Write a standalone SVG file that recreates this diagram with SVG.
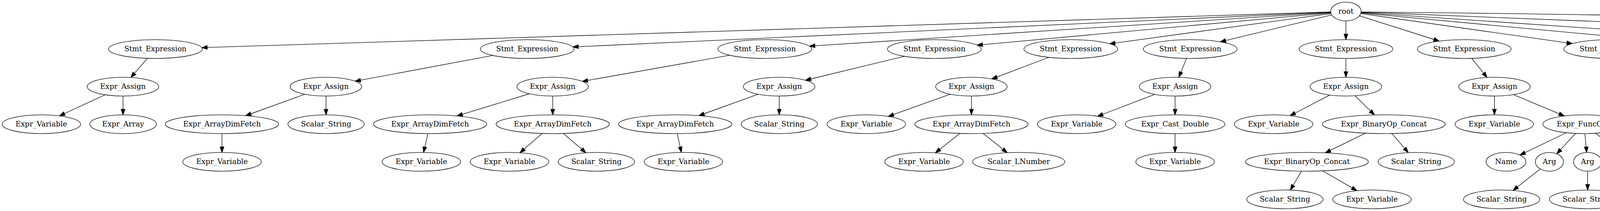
<svg xmlns="http://www.w3.org/2000/svg" width="6625" height="539" viewBox="0 0 6625 539">
<style>
.node ellipse{fill:#fff;stroke:#000;stroke-width:1.33}
.node text{font-family:"DejaVu Serif",serif;font-size:18.67px;text-anchor:middle;fill:#000}
.edges path{fill:none;stroke:#000;stroke-width:1.33;marker-end:url(#arr)}
</style>
<defs>
<marker id="arr" markerUnits="userSpaceOnUse" markerWidth="14" markerHeight="10" viewBox="0 0 13.33 9.33" refX="13.33" refY="4.67" orient="auto" overflow="visible">
<path d="M0,0 L13.33,4.67 L0,9.33 z" fill="#000" stroke="#000" stroke-width="1.33"/>
</marker>
</defs>
<rect width="6625" height="539" fill="#fff"/>
<g id="edges" class="edges">
<path d="M3406.6,30.5 L516.5,121.6"/>
<path d="M3406.6,31.1 L1466.6,119.9"/>
<path d="M3406.7,31.8 L2072.2,117.9"/>
<path d="M3406.9,32.8 L2501.2,115.4"/>
<path d="M3407.4,34.5 L2840.5,111.8"/>
<path d="M3409.2,38.1 L3123.7,106.8"/>
<path d="M3445.5,53.3 L3445.5,101.3"/>
<path d="M3480.2,40.3 L3684.4,105.0"/>
<path d="M3483.5,34.7 L4025.3,111.4"/>
<path d="M3484.0,33.2 L4330.5,112.0"/>
<path d="M3484.3,32.0 L4733.6,117.5"/>
<path d="M3484.4,30.9 L5778.1,122.0"/>
<path d="M3484.4,30.7 Q5179,46 6092.4,111.7"/>
<path d="M377.3,149.0 L335.0,197.9"/>
<path d="M269.3,242.1 L152.1,296.0"/>
<path d="M314.9,245.3 L314.9,293.3"/>
<path d="M1261.8,141.7 L909.0,207.4"/>
<path d="M780.6,240.7 L628.8,295.5"/>
<path d="M834.6,245.3 L834.6,293.3"/>
<path d="M568.3,341.3 L568.3,389.3"/>
<path d="M1868.1,141.2 L1490.6,207.9"/>
<path d="M1355.2,239.5 L1170.0,296.2"/>
<path d="M1414.9,245.3 L1414.9,293.3"/>
<path d="M1095.5,341.3 L1084.3,389.3"/>
<path d="M1387.8,340.9 L1331.0,390.2"/>
<path d="M1442.4,340.9 L1499.9,390.2"/>
<path d="M2315.5,143.8 L2061.9,205.0"/>
<path d="M1940.8,240.7 L1788.9,295.5"/>
<path d="M1994.8,245.3 L1994.8,293.3"/>
<path d="M1733.7,341.3 L1744.3,389.3"/>
<path d="M2685.1,146.5 L2539.0,201.6"/>
<path d="M2432.6,240.6 L2273.8,297.4"/>
<path d="M2486.9,245.3 L2486.9,293.3"/>
<path d="M2457.3,340.8 L2394.7,390.3"/>
<path d="M2516.6,340.8 L2578.7,390.1"/>
<path d="M3037.4,149.2 L3017.9,197.4"/>
<path d="M2956.4,241.1 L2809.7,297.0"/>
<path d="M3008.2,245.3 L3008.2,293.3"/>
<path d="M3008.2,341.3 L3008.2,389.3"/>
<path d="M3445.5,149.3 L3445.5,197.3"/>
<path d="M3404.2,242.7 L3302.5,295.5"/>
<path d="M3469.0,244.5 L3518.7,293.6"/>
<path d="M3495.7,340.2 L3392.7,390.4"/>
<path d="M3563.2,341.1 L3605.3,389.8"/>
<path d="M3331.7,437.2 L3303.4,485.5"/>
<path d="M3386.0,436.5 L3473.8,487.1"/>
<path d="M3767.5,149.0 L3807.0,197.8"/>
<path d="M3825.7,245.3 L3825.7,293.3"/>
<path d="M3874.4,241.7 L4004.6,296.2"/>
<path d="M4009.9,339.0 L3891.0,396.2"/>
<path d="M4033.3,340.8 L3985.3,392.9"/>
<path d="M4057.2,341.3 L4061.9,389.4"/>
<path d="M4084.7,340.3 L4155.5,395.1"/>
<path d="M3943.2,431.6 L3873.4,486.4"/>
<path d="M4064.3,437.3 L4064.3,485.3"/>
<path d="M4200.3,432.7 L4259.0,486.1"/>
<path d="M4150.4,148.7 L4207.8,198.1"/>
<path d="M4235.1,245.3 L4235.1,293.3"/>
<path d="M4261.9,244.5 L4324.8,298.4"/>
<path d="M4346.2,341.3 L4346.2,389.3"/>
<path d="M4437.1,146.7 L4525.6,198.1"/>
<path d="M4565.6,245.3 L4565.6,293.3"/>
<path d="M4629.6,243.2 L4788.7,297.8"/>
<path d="M4565.6,341.3 L4565.6,389.3"/>
<path d="M4618.1,339.9 L4739.5,392.3"/>
<path d="M4897.4,147.1 L5021.1,200.8"/>
<path d="M5068.5,245.3 L5068.5,293.3"/>
<path d="M5117.1,241.7 L5247.3,296.2"/>
<path d="M5283.8,341.1 L5255.2,390.2"/>
<path d="M5311.5,341.1 L5340.6,390.9"/>
<path d="M5353.7,437.3 L5353.7,485.3"/>
<path d="M5834.8,148.0 L5773.6,198.4"/>
<path d="M5890.0,148.0 L5951.2,198.0"/>
<path d="M5922.7,142.2 L6146.3,204.8"/>
<path d="M5698.9,241.9 L5575.0,296.2"/>
<path d="M5748.4,245.3 L5753.6,293.3"/>
<path d="M5742.6,341.1 L5714.6,390.1"/>
<path d="M5770.4,341.1 L5800.1,391.0"/>
<path d="M5813.6,437.3 L5813.6,485.3"/>
<path d="M5982.0,245.3 L5986.5,293.3"/>
<path d="M5974.4,341.1 L5944.9,390.2"/>
<path d="M6002.2,341.1 L6030.3,390.8"/>
<path d="M6043.1,437.3 L6043.1,485.3"/>
<path d="M6208.1,245.3 L6213.4,293.3"/>
<path d="M6245.2,147.1 L6367.3,200.1"/>
<path d="M6414.0,245.3 L6409.3,293.3"/>
<path d="M6441.2,244.6 L6498.1,297.8"/>
<path d="M6519.0,341.3 L6519.0,389.3"/>
</g>
<g id="n0" class="node"><ellipse cx="3445.5" cy="29.3" rx="39" ry="24"/><text x="3445.5" y="34.6">root</text></g>
<g id="n1" class="node"><ellipse cx="397.8" cy="125.3" rx="120" ry="24"/><text x="397.8" y="130.6">Stmt_Expression</text></g>
<g id="n2" class="node"><ellipse cx="314.7" cy="221.3" rx="91.5" ry="24"/><text x="314.7" y="226.6">Expr_Assign</text></g>
<g id="n3" class="node"><ellipse cx="105.8" cy="317.3" rx="100.5" ry="24"/><text x="105.8" y="322.6">Expr_Variable</text></g>
<g id="n4" class="node"><ellipse cx="315.2" cy="317.3" rx="85.3" ry="24"/><text x="315.2" y="322.6">Expr_Array</text></g>
<g id="n5" class="node"><ellipse cx="1349.6" cy="125.3" rx="120" ry="24"/><text x="1349.6" y="130.6">Stmt_Expression</text></g>
<g id="n6" class="node"><ellipse cx="834.4" cy="221.3" rx="91.5" ry="24"/><text x="834.4" y="226.6">Expr_Assign</text></g>
<g id="n7" class="node"><ellipse cx="568.3" cy="317.3" rx="145" ry="24"/><text x="568.3" y="322.6">Expr_ArrayDimFetch</text></g>
<g id="n8" class="node"><ellipse cx="568.3" cy="413.3" rx="100.5" ry="24"/><text x="568.3" y="418.6">Expr_Variable</text></g>
<g id="n9" class="node"><ellipse cx="834.8" cy="317.3" rx="97.7" ry="24"/><text x="834.8" y="322.6">Scalar_String</text></g>
<g id="n10" class="node"><ellipse cx="1958" cy="125.3" rx="120" ry="24"/><text x="1958" y="130.6">Stmt_Expression</text></g>
<g id="n11" class="node"><ellipse cx="1414.7" cy="221.3" rx="91.5" ry="24"/><text x="1414.7" y="226.6">Expr_Assign</text></g>
<g id="n12" class="node"><ellipse cx="1101" cy="317.3" rx="145" ry="24"/><text x="1101" y="322.6">Expr_ArrayDimFetch</text></g>
<g id="n13" class="node"><ellipse cx="1078.8" cy="413.3" rx="100.5" ry="24"/><text x="1078.8" y="418.6">Expr_Variable</text></g>
<g id="n14" class="node"><ellipse cx="1415" cy="317.3" rx="145" ry="24"/><text x="1415" y="322.6">Expr_ArrayDimFetch</text></g>
<g id="n15" class="node"><ellipse cx="1304.3" cy="413.3" rx="100.5" ry="24"/><text x="1304.3" y="418.6">Expr_Variable</text></g>
<g id="n16" class="node"><ellipse cx="1526.8" cy="413.3" rx="97.7" ry="24"/><text x="1526.8" y="418.6">Scalar_String</text></g>
<g id="n17" class="node"><ellipse cx="2392" cy="125.3" rx="120" ry="24"/><text x="2392" y="130.6">Stmt_Expression</text></g>
<g id="n18" class="node"><ellipse cx="1994.6" cy="221.3" rx="91.5" ry="24"/><text x="1994.6" y="226.6">Expr_Assign</text></g>
<g id="n19" class="node"><ellipse cx="1728.4" cy="317.3" rx="145" ry="24"/><text x="1728.4" y="322.6">Expr_ArrayDimFetch</text></g>
<g id="n20" class="node"><ellipse cx="1749.6" cy="413.3" rx="100.5" ry="24"/><text x="1749.6" y="418.6">Expr_Variable</text></g>
<g id="n21" class="node"><ellipse cx="1995" cy="317.3" rx="97.7" ry="24"/><text x="1995" y="322.6">Scalar_String</text></g>
<g id="n22" class="node"><ellipse cx="2741.3" cy="125.3" rx="120" ry="24"/><text x="2741.3" y="130.6">Stmt_Expression</text></g>
<g id="n23" class="node"><ellipse cx="2486.8" cy="221.3" rx="91.5" ry="24"/><text x="2486.8" y="226.6">Expr_Assign</text></g>
<g id="n24" class="node"><ellipse cx="2217.9" cy="317.3" rx="100.5" ry="24"/><text x="2217.9" y="322.6">Expr_Variable</text></g>
<g id="n25" class="node"><ellipse cx="2487" cy="317.3" rx="145" ry="24"/><text x="2487" y="322.6">Expr_ArrayDimFetch</text></g>
<g id="n26" class="node"><ellipse cx="2365.6" cy="413.3" rx="100.5" ry="24"/><text x="2365.6" y="418.6">Expr_Variable</text></g>
<g id="n27" class="node"><ellipse cx="2608" cy="413.3" rx="117.9" ry="24"/><text x="2608" y="418.6">Scalar_LNumber</text></g>
<g id="n28" class="node"><ellipse cx="3047" cy="125.3" rx="120" ry="24"/><text x="3047" y="130.6">Stmt_Expression</text></g>
<g id="n29" class="node"><ellipse cx="3008.3" cy="221.3" rx="91.5" ry="24"/><text x="3008.3" y="226.6">Expr_Assign</text></g>
<g id="n30" class="node"><ellipse cx="2756.3" cy="317.3" rx="100.5" ry="24"/><text x="2756.3" y="322.6">Expr_Variable</text></g>
<g id="n31" class="node"><ellipse cx="3008.2" cy="317.3" rx="127.6" ry="24"/><text x="3008.2" y="322.6">Expr_Cast_Double</text></g>
<g id="n32" class="node"><ellipse cx="3008.2" cy="413.3" rx="100.5" ry="24"/><text x="3008.2" y="418.6">Expr_Variable</text></g>
<g id="n33" class="node"><ellipse cx="3445.5" cy="125.3" rx="120" ry="24"/><text x="3445.5" y="130.6">Stmt_Expression</text></g>
<g id="n34" class="node"><ellipse cx="3445.5" cy="221.3" rx="91.5" ry="24"/><text x="3445.5" y="226.6">Expr_Assign</text></g>
<g id="n35" class="node"><ellipse cx="3260.5" cy="317.3" rx="100.5" ry="24"/><text x="3260.5" y="322.6">Expr_Variable</text></g>
<g id="n36" class="node"><ellipse cx="3542.7" cy="317.3" rx="157.4" ry="24"/><text x="3542.7" y="322.6">Expr_BinaryOp_Concat</text></g>
<g id="n37" class="node"><ellipse cx="3345.7" cy="413.3" rx="157.4" ry="24"/><text x="3345.7" y="418.6">Expr_BinaryOp_Concat</text></g>
<g id="n38" class="node"><ellipse cx="3289.5" cy="509.3" rx="97.7" ry="24"/><text x="3289.5" y="514.6">Scalar_String</text></g>
<g id="n39" class="node"><ellipse cx="3512.3" cy="509.3" rx="100.5" ry="24"/><text x="3512.3" y="514.6">Expr_Variable</text></g>
<g id="n40" class="node"><ellipse cx="3625.5" cy="413.3" rx="97.7" ry="24"/><text x="3625.5" y="418.6">Scalar_String</text></g>
<g id="n41" class="node"><ellipse cx="3748.4" cy="125.3" rx="120" ry="24"/><text x="3748.4" y="130.6">Stmt_Expression</text></g>
<g id="n42" class="node"><ellipse cx="3825.9" cy="221.3" rx="91.5" ry="24"/><text x="3825.9" y="226.6">Expr_Assign</text></g>
<g id="n43" class="node"><ellipse cx="3825.4" cy="317.3" rx="100.5" ry="24"/><text x="3825.4" y="322.6">Expr_Variable</text></g>
<g id="n44" class="node"><ellipse cx="4054.9" cy="317.3" rx="105" ry="24"/><text x="4054.9" y="322.6">Expr_FuncCall</text></g>
<g id="n45" class="node"><ellipse cx="3855.4" cy="413.3" rx="50.9" ry="24"/><text x="3855.4" y="418.6">Name</text></g>
<g id="n46" class="node"><ellipse cx="3966.5" cy="413.3" rx="36" ry="24"/><text x="3966.5" y="418.6">Arg</text></g>
<g id="n47" class="node"><ellipse cx="3844.2" cy="509.3" rx="97.7" ry="24"/><text x="3844.2" y="514.6">Scalar_String</text></g>
<g id="n48" class="node"><ellipse cx="4064.2" cy="413.3" rx="36" ry="24"/><text x="4064.2" y="418.6">Arg</text></g>
<g id="n49" class="node"><ellipse cx="4064.3" cy="509.3" rx="97.7" ry="24"/><text x="4064.3" y="514.6">Scalar_String</text></g>
<g id="n50" class="node"><ellipse cx="4179" cy="413.3" rx="36" ry="24"/><text x="4179" y="418.6">Arg</text></g>
<g id="n51" class="node"><ellipse cx="4284.4" cy="509.3" rx="97.7" ry="24"/><text x="4284.4" y="514.6">Scalar_String</text></g>
<g id="n52" class="node"><ellipse cx="4123.2" cy="125.3" rx="120" ry="24"/><text x="4123.2" y="130.6">Stmt_Expression</text></g>
<g id="n53" class="node"><ellipse cx="4234.8" cy="221.3" rx="105" ry="24"/><text x="4234.8" y="226.6">Expr_FuncCall</text></g>
<g id="n54" class="node"><ellipse cx="4235.3" cy="317.3" rx="50.9" ry="24"/><text x="4235.3" y="322.6">Name</text></g>
<g id="n55" class="node"><ellipse cx="4346.9" cy="317.3" rx="36" ry="24"/><text x="4346.9" y="322.6">Arg</text></g>
<g id="n56" class="node"><ellipse cx="4345.5" cy="413.3" rx="97.7" ry="24"/><text x="4345.5" y="418.6">Scalar_String</text></g>
<g id="n57" class="node"><ellipse cx="4400.2" cy="125.3" rx="81.5" ry="24"/><text x="4400.2" y="130.6">Stmt_Echo</text></g>
<g id="n58" class="node"><ellipse cx="4565.6" cy="221.3" rx="157.4" ry="24"/><text x="4565.6" y="226.6">Expr_BinaryOp_Concat</text></g>
<g id="n59" class="node"><ellipse cx="4565.6" cy="317.3" rx="157.4" ry="24"/><text x="4565.6" y="322.6">Expr_BinaryOp_Concat</text></g>
<g id="n60" class="node"><ellipse cx="4565.5" cy="413.3" rx="97.7" ry="24"/><text x="4565.5" y="418.6">Scalar_String</text></g>
<g id="n61" class="node"><ellipse cx="4788.2" cy="413.3" rx="100.5" ry="24"/><text x="4788.2" y="418.6">Expr_Variable</text></g>
<g id="n62" class="node"><ellipse cx="4845.6" cy="317.3" rx="97.7" ry="24"/><text x="4845.6" y="322.6">Scalar_String</text></g>
<g id="n63" class="node"><ellipse cx="4847.1" cy="125.3" rx="120" ry="24"/><text x="4847.1" y="130.6">Stmt_Expression</text></g>
<g id="n64" class="node"><ellipse cx="5068.5" cy="221.3" rx="91.5" ry="24"/><text x="5068.5" y="226.6">Expr_Assign</text></g>
<g id="n65" class="node"><ellipse cx="5068.5" cy="317.3" rx="100.5" ry="24"/><text x="5068.5" y="322.6">Expr_Variable</text></g>
<g id="n66" class="node"><ellipse cx="5297.6" cy="317.3" rx="105" ry="24"/><text x="5297.6" y="322.6">Expr_FuncCall</text></g>
<g id="n67" class="node"><ellipse cx="5241.7" cy="413.3" rx="50.9" ry="24"/><text x="5241.7" y="418.6">Name</text></g>
<g id="n68" class="node"><ellipse cx="5353.6" cy="413.3" rx="36" ry="24"/><text x="5353.6" y="418.6">Arg</text></g>
<g id="n69" class="node"><ellipse cx="5353.8" cy="509.3" rx="100.5" ry="24"/><text x="5353.8" y="514.6">Expr_Variable</text></g>
<g id="n70" class="node"><ellipse cx="5862.3" cy="125.3" rx="85" ry="24"/><text x="5862.3" y="130.6">Stmt_While</text></g>
<g id="n71" class="node"><ellipse cx="5745.8" cy="221.3" rx="91.5" ry="24"/><text x="5745.8" y="226.6">Expr_Assign</text></g>
<g id="n72" class="node"><ellipse cx="5527" cy="317.3" rx="100.5" ry="24"/><text x="5527" y="322.6">Expr_Variable</text></g>
<g id="n73" class="node"><ellipse cx="5756.3" cy="317.3" rx="105" ry="24"/><text x="5756.3" y="322.6">Expr_FuncCall</text></g>
<g id="n74" class="node"><ellipse cx="5701.3" cy="413.3" rx="50.9" ry="24"/><text x="5701.3" y="418.6">Name</text></g>
<g id="n75" class="node"><ellipse cx="5813.4" cy="413.3" rx="36" ry="24"/><text x="5813.4" y="418.6">Arg</text></g>
<g id="n76" class="node"><ellipse cx="5813.7" cy="509.3" rx="100.5" ry="24"/><text x="5813.7" y="514.6">Expr_Variable</text></g>
<g id="n77" class="node"><ellipse cx="5979.7" cy="221.3" rx="120" ry="24"/><text x="5979.7" y="226.6">Stmt_Expression</text></g>
<g id="n78" class="node"><ellipse cx="5988.7" cy="317.3" rx="105" ry="24"/><text x="5988.7" y="322.6">Expr_FuncCall</text></g>
<g id="n79" class="node"><ellipse cx="5931" cy="413.3" rx="50.9" ry="24"/><text x="5931" y="418.6">Name</text></g>
<g id="n80" class="node"><ellipse cx="6043" cy="413.3" rx="36" ry="24"/><text x="6043" y="418.6">Arg</text></g>
<g id="n81" class="node"><ellipse cx="6043.1" cy="509.3" rx="100.5" ry="24"/><text x="6043.1" y="514.6">Expr_Variable</text></g>
<g id="n82" class="node"><ellipse cx="6205.4" cy="221.3" rx="81.5" ry="24"/><text x="6205.4" y="226.6">Stmt_Echo</text></g>
<g id="n83" class="node"><ellipse cx="6216" cy="317.3" rx="97.7" ry="24"/><text x="6216" y="322.6">Scalar_String</text></g>
<g id="n84" class="node"><ellipse cx="6194.9" cy="125.3" rx="120" ry="24"/><text x="6194.9" y="130.6">Stmt_Expression</text></g>
<g id="n85" class="node"><ellipse cx="6416.3" cy="221.3" rx="105" ry="24"/><text x="6416.3" y="226.6">Expr_FuncCall</text></g>
<g id="n86" class="node"><ellipse cx="6406.9" cy="317.3" rx="50.9" ry="24"/><text x="6406.9" y="322.6">Name</text></g>
<g id="n87" class="node"><ellipse cx="6519" cy="317.3" rx="36" ry="24"/><text x="6519" y="322.6">Arg</text></g>
<g id="n88" class="node"><ellipse cx="6519" cy="413.3" rx="100.5" ry="24"/><text x="6519" y="418.6">Expr_Variable</text></g>
</svg>
